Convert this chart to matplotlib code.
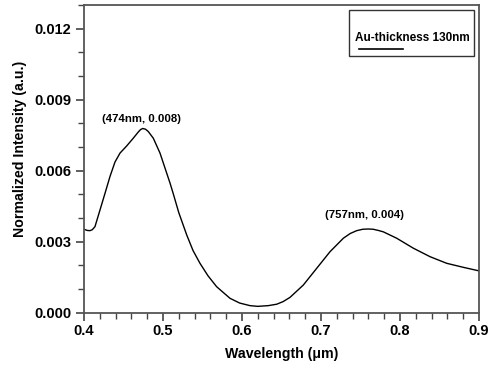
import matplotlib
matplotlib.use('Agg')
import matplotlib.pyplot as plt
from matplotlib.ticker import MultipleLocator, FormatStrFormatter
from matplotlib.patches import Rectangle
from matplotlib.lines import Line2D

plt.rcParams['font.family'] = ['Liberation Sans', 'DejaVu Sans']
plt.rcParams['font.weight'] = 'bold'

# spectrum (wavelength in um, normalized intensity)
wl = [0.400, 0.4040, 0.4076, 0.4105, 0.4139, 0.4203, 0.4266, 0.4329, 0.4392, 0.4456,
      0.4540, 0.4624, 0.4687, 0.4715, 0.4743, 0.4778, 0.4814, 0.4877, 0.4962, 0.5047,
      0.5089, 0.5130, 0.5200, 0.5300, 0.5380, 0.5468, 0.5570, 0.5679, 0.5848, 0.5970,
      0.6101, 0.6200, 0.6333, 0.6439, 0.6520, 0.6608, 0.6776, 0.6946, 0.7114, 0.7283,
      0.7370, 0.7452, 0.7530, 0.7599, 0.7660, 0.7725, 0.7789, 0.7958, 0.8168, 0.8380,
      0.8591, 0.8801, 0.9000]
inten = [0.00352, 0.00347, 0.00346, 0.00350, 0.00363, 0.00434, 0.00504, 0.00575, 0.00636, 0.00674,
         0.00704, 0.00737, 0.00763, 0.00773, 0.00778, 0.00775, 0.00765, 0.00737, 0.00674, 0.00589,
         0.00547, 0.00502, 0.00422, 0.00328, 0.00262, 0.00208, 0.00155, 0.00109, 0.00060, 0.00040,
         0.00029, 0.00026, 0.00029, 0.00035, 0.00046, 0.00064, 0.00116, 0.00187, 0.00257, 0.00314,
         0.00334, 0.00346, 0.00352, 0.00353, 0.00352, 0.00347, 0.00341, 0.00314, 0.00272, 0.00236,
         0.00208, 0.00191, 0.00176]

peak_labels = ['(474nm, 0.008)', '(757nm, 0.004)']
peak_x = [0.474, 0.757]
peak_y = [0.00778, 0.00353]
label_offsets = [(-1, 7), (-1, 10)]

fig = plt.figure(figsize=(4.95, 3.65), dpi=100)
ax = fig.add_axes([84/495, 1 - 312.5/365, (479-84)/495, (312.5-5)/365])
ax.plot(wl, inten, color='black', lw=1.0)

for lab, px, py, off in zip(peak_labels, peak_x, peak_y, label_offsets):
    ax.annotate(lab, (px, py), xytext=off, textcoords='offset points',
                ha='center', va='center', fontsize=8.2, fontweight='bold')

ax.set_xlim(0.4, 0.9)
ax.set_ylim(0, 0.013)
ax.xaxis.set_major_locator(MultipleLocator(0.1))
ax.xaxis.set_minor_locator(MultipleLocator(0.02))
ax.yaxis.set_major_locator(MultipleLocator(0.003))
ax.yaxis.set_minor_locator(MultipleLocator(0.001))
ax.xaxis.set_major_formatter(FormatStrFormatter('%.1f'))
ax.yaxis.set_major_formatter(FormatStrFormatter('%.3f'))
ax.tick_params(which='major', direction='out', length=5.5, width=1.2, labelsize=10.5,
               colors='#444444', labelcolor='black')
ax.tick_params(which='minor', direction='out', length=4, width=1.0, colors='#444444')
ax.tick_params(axis='x', pad=3)
for s in ax.spines.values():
    s.set_color('#555555')
    s.set_linewidth(1.3)

ax.set_xlabel('Wavelength (\u03bcm)', fontsize=10.2, fontweight='bold', labelpad=6)
ax.set_ylabel('Normalized Intensity (a.u.)', fontsize=10.2, fontweight='bold')
ax.yaxis.set_label_coords(-0.145, 0.532)

# legend box: text on top, line sample below
ax.add_patch(Rectangle((0.671, 0.834), 0.316, 0.150, transform=ax.transAxes,
                       facecolor='white', edgecolor='#333333', lw=1.0, zorder=5))
ax.text(0.832, 0.893, 'Au-thickness 130nm', transform=ax.transAxes, ha='center', va='center',
        fontsize=8.5, fontweight='bold', zorder=6)
ax.add_line(Line2D([0.696, 0.808], [0.857, 0.857], transform=ax.transAxes,
                   color='black', lw=1.2, zorder=6))

fig.savefig('out.png', dpi=100)
